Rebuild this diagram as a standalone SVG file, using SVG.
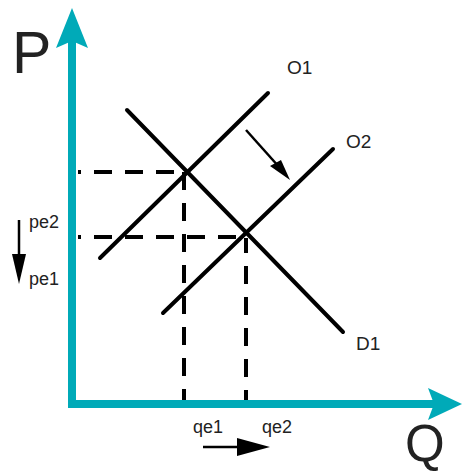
<svg xmlns="http://www.w3.org/2000/svg" width="462" height="472" viewBox="0 0 462 472">
<style>
.curve{stroke:#000;stroke-width:4;fill:none;stroke-linecap:round}
.dash{stroke:#000;stroke-width:4;fill:none;stroke-dasharray:18 13}
.axis{fill:#00AAB8}
.lbl{font-family:"Liberation Sans",Arial,sans-serif;fill:#222}
.thin{stroke:#000;stroke-width:2.5;fill:none}
</style>
<rect width="462" height="472" fill="#fff"/>
<g id="axes">
<rect class="axis" x="68" y="40" width="8" height="368"/>
<polygon class="axis" points="72,8 88,48 72,41 56,48"/>
<rect class="axis" x="68" y="400" width="366" height="8"/>
<polygon class="axis" points="462,404 428,388 434,404 428,420"/>
<text class="lbl" x="12" y="73" font-size="59" fill="#111">P</text>
<text class="lbl" x="405" y="461" font-size="51" fill="#111">Q</text>
</g>
<g id="guides">
<line class="dash" x1="78" y1="172" x2="186" y2="172" stroke-dashoffset="15"/>
<line class="dash" x1="78" y1="237" x2="247" y2="237" stroke-dashoffset="15"/>
<line class="dash" x1="184" y1="172" x2="184" y2="400"/>
<line class="dash" x1="246" y1="238" x2="246" y2="400" stroke-dashoffset="3"/>
</g>
<g id="D1">
<line class="curve" x1="127" y1="110" x2="343" y2="332"/>
<text class="lbl" x="356" y="350" font-size="19">D1</text>
</g>
<g id="O1">
<line class="curve" x1="100" y1="258" x2="268" y2="93"/>
<text class="lbl" x="287" y="74" font-size="19">O1</text>
</g>
<g id="O2">
<line class="curve" x1="163" y1="313" x2="333" y2="149"/>
<text class="lbl" x="346" y="148" font-size="19">O2</text>
</g>
<g id="shift">
<line class="thin" x1="246" y1="130" x2="280" y2="168"/>
<polygon points="290,180 270,166 281,160" fill="#000"/>
</g>
<g id="price">
<line class="thin" x1="19" y1="220" x2="19" y2="260"/>
<polygon points="19,284 12,254 26,254" fill="#000"/>
<text class="lbl" x="29" y="228" font-size="18">pe2</text>
<text class="lbl" x="29" y="285" font-size="18">pe1</text>
</g>
<g id="quantity">
<line class="thin" x1="203" y1="447" x2="245" y2="447"/>
<polygon points="270,447 237,438 237,456" fill="#000"/>
<text class="lbl" x="193" y="433" font-size="18">qe1</text>
<text class="lbl" x="262" y="433" font-size="18">qe2</text>
</g>
</svg>
